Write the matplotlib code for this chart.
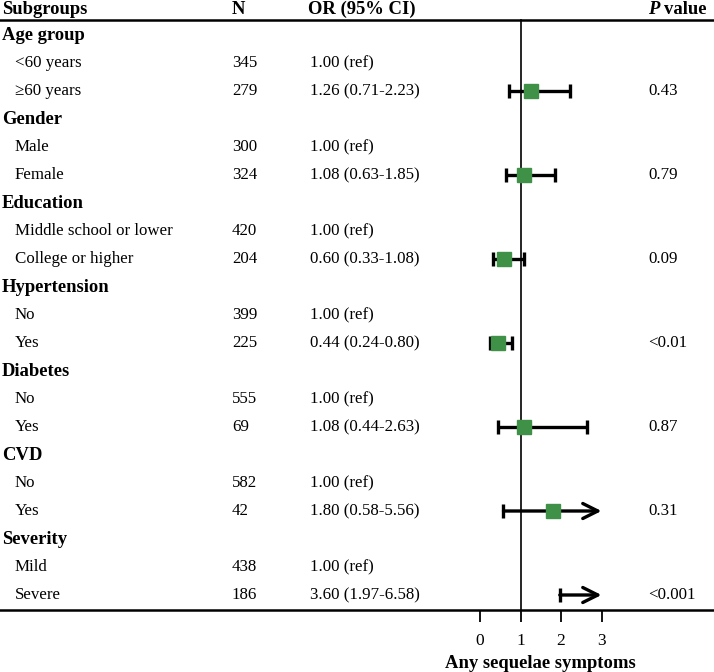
import matplotlib
matplotlib.use("Agg")
import matplotlib.pyplot as plt
from matplotlib.transforms import blended_transform_factory

plt.rcParams['font.family'] = ['Liberation Serif', 'DejaVu Serif']

groups = ["Age group", "Gender", "Education", "Hypertension", "Diabetes", "CVD", "Severity"]
subgroups = [["<60 years", "\u226560 years"], ["Male", "Female"],
             ["Middle school or lower", "College or higher"], ["No", "Yes"],
             ["No", "Yes"], ["No", "Yes"], ["Mild", "Severe"]]
n_values = [[345, 279], [300, 324], [420, 204], [399, 225], [555, 69], [582, 42], [438, 186]]
or_text = [["1.00 (ref)", "1.26 (0.71-2.23)"], ["1.00 (ref)", "1.08 (0.63-1.85)"],
           ["1.00 (ref)", "0.60 (0.33-1.08)"], ["1.00 (ref)", "0.44 (0.24-0.80)"],
           ["1.00 (ref)", "1.08 (0.44-2.63)"], ["1.00 (ref)", "1.80 (0.58-5.56)"],
           ["1.00 (ref)", "3.60 (1.97-6.58)"]]
or_est = [1.26, 1.08, 0.60, 0.44, 1.08, 1.80, 3.60]
or_lo = [0.71, 0.63, 0.33, 0.24, 0.44, 0.58, 1.97]
or_hi = [2.23, 1.85, 1.08, 0.80, 2.63, 5.56, 6.58]
p_values = ["0.43", "0.79", "0.09", "<0.01", "0.87", "0.31", "<0.001"]
x_ticks = [0, 1, 2, 3]
x_max = 3

W, H = 714, 672
fig = plt.figure(figsize=(W / 100, H / 100), dpi=100)
bottom_px = 610
ax = fig.add_axes([0, (H - bottom_px) / H, 1, bottom_px / H])
px_per_unit = 40.5
x0_px = 480
ax.set_xlim(-x0_px / px_per_unit, (W - x0_px) / px_per_unit)
row_px = 28.0
top_row = -1.25
ax.set_ylim(top_row + bottom_px / row_px, top_row)

for s in ["top", "left", "right"]:
    ax.spines[s].set_visible(False)
ax.spines["bottom"].set_linewidth(1.8)
ax.set_yticks([])
ax.set_xticks(x_ticks)
ax.set_xticklabels([str(t) for t in x_ticks], fontsize=12.5)
ax.tick_params(axis='x', direction='out', length=8.5, width=1.3, pad=8)

tr = blended_transform_factory(ax.transAxes, ax.transData)
fs = 12.2
fsb = 13.4

# header
hy = -0.92
ax.text(2 / W, hy, "Subgroups", transform=tr, fontsize=fsb, fontweight='bold', va='center')
ax.text(232 / W, hy, "N", transform=tr, fontsize=fsb, fontweight='bold', va='center')
ax.text(308 / W, hy, "OR (95% CI)", transform=tr, fontsize=fsb, fontweight='bold', va='center')
ax.text(648 / W, hy, "P", transform=tr, fontsize=fsb, fontweight='bold', fontstyle='italic', va='center')
ax.text(664 / W, hy, "value", transform=tr, fontsize=fsb, fontweight='bold', va='center')
ax.axhline(-0.54, color='black', lw=1.8)

# reference line
ax.plot([1, 1], [-0.54, top_row + bottom_px / row_px], color='black', lw=1.2, clip_on=False)

row = 0
for gi, g in enumerate(groups):
    ax.text(2 / W, row, g, transform=tr, fontsize=fsb, fontweight='bold', va='center')
    row += 1
    for si in range(2):
        ax.text(15 / W, row, subgroups[gi][si], transform=tr, fontsize=fs, va='center')
        ax.text(232 / W, row, str(n_values[gi][si]), transform=tr, fontsize=fs, va='center')
        ax.text(310 / W, row, or_text[gi][si], transform=tr, fontsize=fs, va='center')
        if si == 1:
            ax.text(648 / W, row, p_values[gi], transform=tr, fontsize=fs, va='center')
            lo, hi, est = or_lo[gi], or_hi[gi], or_est[gi]
            ax.plot([lo, lo], [row - 0.25, row + 0.25], color='black', lw=2.4,
                    solid_capstyle='butt')
            if hi > x_max:
                ax.annotate("", xy=(x_max, row), xytext=(lo, row),
                            arrowprops=dict(arrowstyle='->,head_length=0.54,head_width=0.27',
                                            mutation_scale=20, lw=2.4, color='black',
                                            shrinkA=0, shrinkB=0))
            else:
                ax.plot([lo, hi], [row, row], color='black', lw=2.4, solid_capstyle='butt')
                ax.plot([hi, hi], [row - 0.25, row + 0.25], color='black', lw=2.4,
                        solid_capstyle='butt')
            if est <= x_max:
                ax.plot([est], [row], marker='s', markersize=9.5, color='#3f9148',
                        markeredgecolor='#3f9148', zorder=5)
        row += 1

fig.text((x0_px + 1.5 * px_per_unit) / W, 1 - 663 / H, "Any sequelae symptoms",
         fontsize=13.4, fontweight='bold', ha='center', va='center')

fig.savefig("out.png", dpi=100)
